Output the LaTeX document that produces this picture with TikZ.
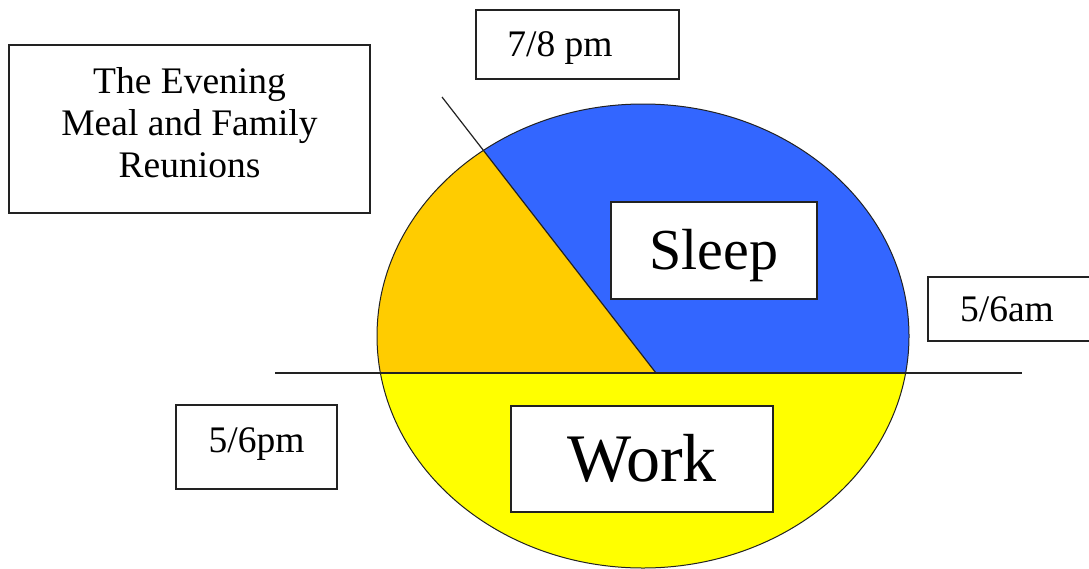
\documentclass[tikz,border=0pt]{standalone}
\usepackage{fontspec}
\setmainfont{Liberation Serif}
\definecolor{sleepblue}{HTML}{3366FF}
\definecolor{mealorange}{HTML}{FFCC00}
\definecolor{workyellow}{HTML}{FFFF00}
\definecolor{edge}{HTML}{222222}
\begin{document}
\begin{tikzpicture}[x=1pt,y=-1pt,
  box/.style={draw=edge, line width=1.6pt, fill=white, inner sep=0pt},
  small/.style={font=\fontsize{37.5}{42}\selectfont, text height=24.6pt, text depth=0pt},
]
\fill[white] (0,0) rectangle (1089,568);
\useasboundingbox (0,0) rectangle (1089,568);
\coordinate (C) at (643,336);
\coordinate (Hub) at (656,373);
\coordinate (DiagEnd) at (442,97);
\coordinate (HL) at (275,373);
\coordinate (HR) at (1022,373);
\begin{scope}
  \clip (C) ellipse [x radius=266, y radius=232];
  \fill[workyellow] (0,373) rectangle (1089,600);
  \fill[mealorange] (366.8,0) -- (Hub) -- (0,373) -- (0,0) -- cycle;
  \fill[sleepblue] (366.8,0) -- (Hub) -- (1089,373) -- (1089,0) -- cycle;
\end{scope}
\draw[edge, line width=1pt] (C) ellipse [x radius=266, y radius=232];
\draw[edge, line width=1.5pt] (HL) -- (HR);
\draw[edge, line width=1.2pt] (DiagEnd) -- (Hub);

\node[box, font=\fontsize{37.5}{42}\selectfont, align=center, minimum width=361, minimum height=168] (meal) at (189.5,129)
  {The Evening\\Meal and Family\\Reunions\\[-28pt]\mbox{}};
\node[box, small, minimum width=203, minimum height=69] (t78) at (577.5,44.5) {7/8 pm\rule{35pt}{0pt}};
\node[box, font=\fontsize{58}{64}\selectfont, text height=38.3pt, text depth=0pt, minimum width=206, minimum height=97] (sleep) at (714,250.5) {Sleep};
\node[box, font=\fontsize{68}{74}\selectfont, text height=45pt, text depth=0pt, minimum width=262, minimum height=106] (work) at (642,459) {Work};
\node[box, small, minimum width=172, minimum height=64] (t56am) at (1014,309) {5/6am\rule{14pt}{0pt}};
\node[box, small, text depth=13pt, minimum width=161, minimum height=84] (t56pm) at (256.5,447) {5/6pm};
\end{tikzpicture}
\end{document}
